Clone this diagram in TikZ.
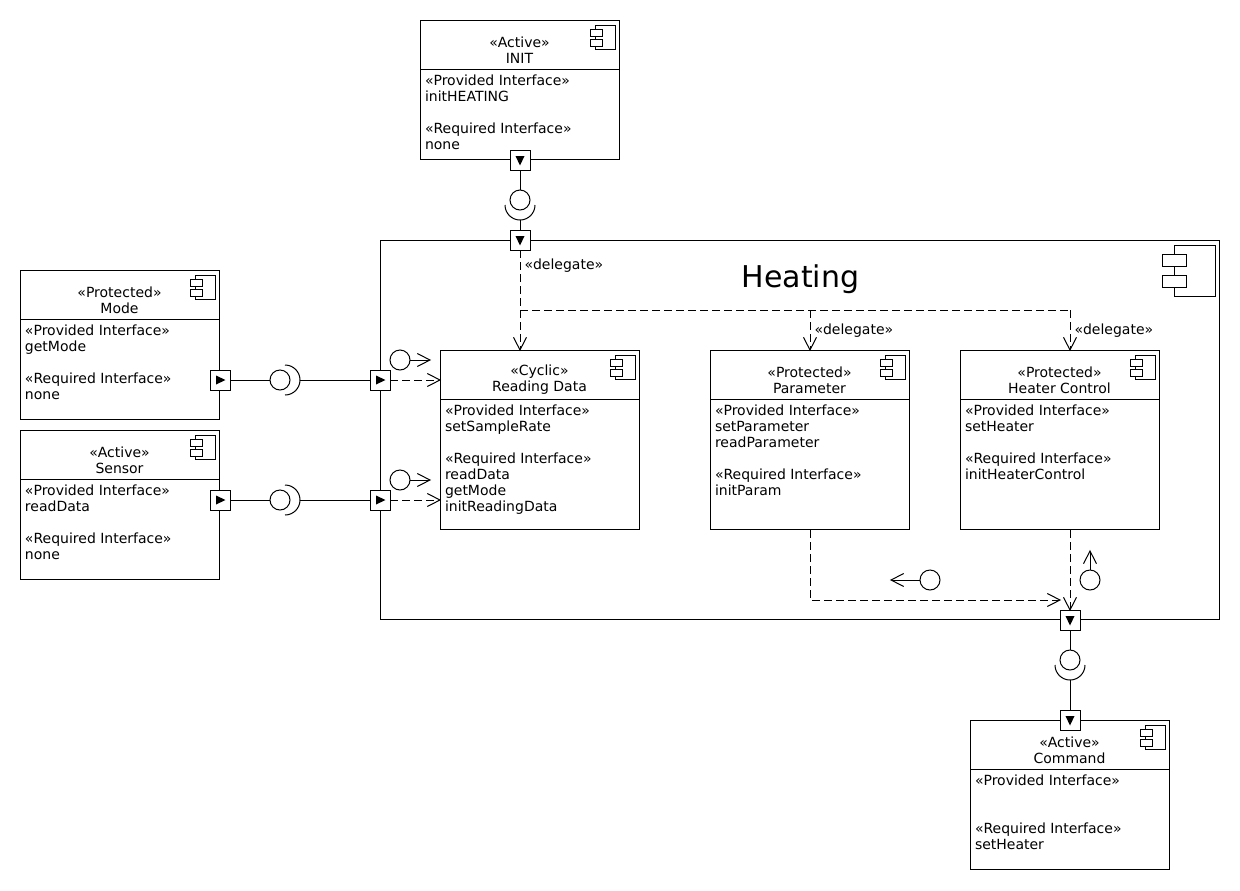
\documentclass[tikz,border=0pt]{standalone}
\usepackage{fontspec}
\setmainfont{DejaVu Sans}
\usetikzlibrary{arrows.meta}

\pgfdeclarearrow{
  name=openvee,
  defaults={length=9.5pt,width=9.75pt},
  setup code={
    \pgfarrowssettipend{0pt}
    \pgfarrowssetlineend{-0.4pt}
    \pgfarrowssetvisualbackend{-0.4pt}
    \pgfarrowssetbackend{-\pgfarrowlength}
    \pgfarrowssavethe\pgfarrowlength
    \pgfarrowssavethe\pgfarrowwidth
  },
  drawing code={
    \pgfsetdash{}{0pt}
    \pgfpathmoveto{\pgfqpoint{-\pgfarrowlength}{.5\pgfarrowwidth}}
    \pgfpathlineto{\pgfqpoint{0pt}{0pt}}
    \pgfpathlineto{\pgfqpoint{-\pgfarrowlength}{-.5\pgfarrowwidth}}
    \pgfusepathqstroke
  }
}

\tikzset{every picture/.style={line width=0.75pt},
  framebox/.style={draw,fill=white,minimum width=149.25pt,inner sep=0pt,outer sep=0pt},
  titletext/.style={inner sep=0pt,align=center,font=\fontsize{10.5}{12}\selectfont},
  bodytext/.style={inner sep=0pt,anchor=north west,align=left,font=\fontsize{10.5}{12}\selectfont},
  portbox/.style={draw,fill=white,minimum size=15pt,inner sep=0pt,outer sep=0pt},
  ball/.style={draw,circle,minimum size=15pt,inner sep=0pt,outer sep=0pt},
  tagtext/.style={inner sep=0pt,anchor=west,font=\fontsize{10.5}{12}\selectfont},
  delegate/.style={dash pattern=on 6pt off 3pt},
  tip/.style={-{openvee}}
}

% name, left, top, height, header bottom, stereotype, title, body
\newcommand{\compbox}[8]{
  \node [framebox,minimum height=#5*0.75pt-#3*0.75pt-0.75pt] (#1head) at (#2+99.5,{(#3+#5-1)/2}) {};
  \node [framebox,anchor=north,minimum height=#4*0.75pt-#5*0.75pt+#3*0.75pt] (#1body) at (#1head.south) {};
  \node [titletext] (#1title) at (#2+99.5,{(#3+#5)/2+5}) {«#6»\\#7};
  \node [bodytext] (#1text) at (#2+4.5,#5+4) {#8};
  \draw (#2+175.5,#3+5) -- (#2+195.5,#3+5) -- (#2+195.5,#3+29.5) -- (#2+175.5,#3+29.5) -- cycle ;
  \draw [fill=white] (#2+170,#3+9) -- (#2+182,#3+9) -- (#2+182,#3+16) -- (#2+170,#3+16) -- cycle ;
  \draw [fill=white] (#2+170,#3+19) -- (#2+182,#3+19) -- (#2+182,#3+26) -- (#2+170,#3+26) -- cycle ;
}
% name, x, y, rotation
\newcommand{\portmark}[4]{
  \node [portbox] (#1) at (#2,#3) {};
  \fill [shift={(#2,#3)},rotate=#4] (-4,-4.5) -- (5.5,0) -- (-4,4.5) -- cycle ;
}
% x, y, rotation
\newcommand{\socketarc}[3]{
  \draw [shift={(#1,#2)},rotate=#3] (0,-15) arc [start angle=-90,end angle=90,radius=15] ;
}

\begin{document}
\begin{tikzpicture}[x=0.75pt,y=0.75pt,yscale=-1,xscale=1]
\useasboundingbox (0,0) rectangle (1240,890);

%Heating
\node [draw,minimum width=629.25pt,minimum height=284.25pt,inner sep=0pt,outer sep=0pt] (heating) at (799.5,429.5) {};
\node [inner sep=0pt,font=\fontsize{22.5}{27}\selectfont] (heatingtitle) at (800.5,279) {Heating};
\draw (1174,245) -- (1215.5,245) -- (1215.5,296.5) -- (1174,296.5) -- cycle ;
\draw [fill=white] (1162,254) -- (1186.5,254) -- (1186.5,266) -- (1162,266) -- cycle ;
\draw [fill=white] (1162,275) -- (1186.5,275) -- (1186.5,287) -- (1162,287) -- cycle ;

%Components
\compbox{init}{420}{20}{140}{70}{Active}{INIT}{«Provided Interface»\\initHEATING\\~\\«Required Interface»\\none}
\compbox{mode}{20}{270}{150}{320}{Protected}{Mode}{«Provided Interface»\\getMode\\~\\«Required Interface»\\none}
\compbox{sensor}{20}{430}{150}{480}{Active}{Sensor}{«Provided Interface»\\readData\\~\\«Required Interface»\\none}
\compbox{read}{440}{350}{180}{400}{Cyclic}{Reading Data}{«Provided Interface»\\setSampleRate\\~\\«Required Interface»\\readData\\getMode\\initReadingData}
\compbox{param}{710}{350}{180}{400}{Protected}{Parameter}{«Provided Interface»\\setParameter\\readParameter\\~\\«Required Interface»\\initParam}
\compbox{heater}{960}{350}{180}{400}{Protected}{Heater Control}{«Provided Interface»\\setHeater\\~\\«Required Interface»\\initHeaterControl}
\compbox{command}{970}{720}{150}{770}{Active}{Command}{«Provided Interface»\\~\\~\\«Required Interface»\\setHeater}

%Ports
\portmark{initport}{520}{160}{90}
\portmark{heatinit}{520}{240}{90}
\portmark{modeport}{220}{380}{0}
\portmark{heatmode}{380}{380}{0}
\portmark{sensorport}{220}{500}{0}
\portmark{heatsensor}{380}{500}{0}
\portmark{heatcmd}{1070}{620}{90}
\portmark{commandport}{1070}{720}{90}

%Balls
\node [ball] (initball) at (520,200) {};
\node [ball] (modeball) at (280,380) {};
\node [ball] (sensorball) at (280,500) {};
\node [ball] (cmdball) at (1070,660) {};
\node [ball] (readball) at (400,360) {};
\node [ball] (sampleball) at (400,480) {};
\node [ball] (paramball) at (930,580) {};
\node [ball] (heaterball) at (1090,580) {};

%Sockets
\socketarc{520}{205}{90}
\socketarc{285}{380}{0}
\socketarc{285}{500}{0}
\socketarc{1070}{665}{90}
\coordinate (initsock) at (520,220);
\coordinate (modesock) at (300,380);
\coordinate (sensorsock) at (300,500);
\coordinate (cmdsock) at (1070,680);

%Free ends
\coordinate (readtop) at (520,350);
\coordinate (forkleft) at (520,310);
\coordinate (paramtop) at (810,350);
\coordinate (forkmid) at (810,310);
\coordinate (heatertop) at (1070,350);
\coordinate (forkright) at (1070,310);
\coordinate (readmode) at (440,380);
\coordinate (readsensor) at (440,500);
\coordinate (readballtip) at (430,360);
\coordinate (sampleballtip) at (430,480);
\coordinate (paramballtip) at (891,580);
\coordinate (heaterballtip) at (1090,551);
\coordinate (parambottom) at (810,530);
\coordinate (paramcorner) at (810,600);
\coordinate (paramend) at (1060,600);
\coordinate (heaterbottom) at (1070,530);

%Assembly lines
\draw (initport) -- (initball) ;
\draw (initsock) -- (heatinit) ;
\draw (modeport) -- (modeball) ;
\draw (modesock) -- (heatmode) ;
\draw (sensorport) -- (sensorball) ;
\draw (sensorsock) -- (heatsensor) ;
\draw (heatcmd) -- (cmdball) ;
\draw (cmdsock) -- (commandport) ;

%Ball arrows
\draw [tip] (readball) -- (readballtip) ;
\draw [tip] (sampleball) -- (sampleballtip) ;
\draw [tip] (paramball) -- (paramballtip) ;
\draw [tip] (heaterball) -- (heaterballtip) ;

%Delegations
\draw [delegate,tip] (heatinit) -- (readtop) ;
\draw [delegate] (forkleft) -- (forkright) ;
\draw [delegate,tip] (forkmid) -- (paramtop) ;
\draw [delegate,tip] (forkright) -- (heatertop) ;
\draw [delegate,tip] (heatmode) -- (readmode) ;
\draw [delegate,tip] (heatsensor) -- (readsensor) ;
\draw [delegate,tip] (parambottom) -- (paramcorner) -- (paramend) ;
\draw [delegate,tip] (heaterbottom) -- (heatcmd) ;

% Text Node
\node [tagtext] (tagread) at (524,266) {«delegate»};
% Text Node
\node [tagtext] (tagparam) at (814,331) {«delegate»};
% Text Node
\node [tagtext] (tagheater) at (1074,331) {«delegate»};

\end{tikzpicture}
\end{document}
